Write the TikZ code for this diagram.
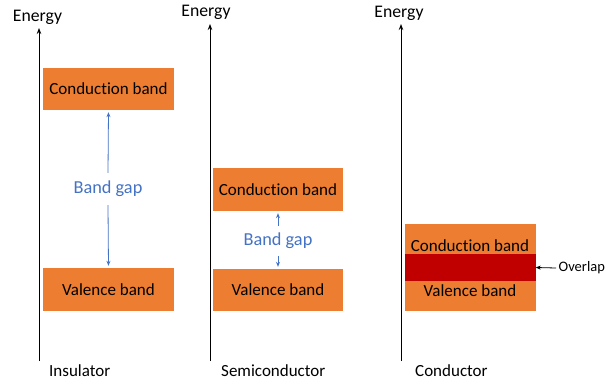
\documentclass[tikz,border=0pt]{standalone}
\usepackage{fontspec}
\setmainfont{Carlito}[Ligatures=NoCommon]
\usetikzlibrary{arrows.meta}
\definecolor{bandorange}{HTML}{ED7D31}
\definecolor{overlapred}{HTML}{C00000}
\definecolor{gapblue}{HTML}{4472C4}
\begin{document}
\begin{tikzpicture}[x=1pt,y=-1pt,
  band/.style={fill=bandorange, draw=none, minimum width=131pt, minimum height=43pt, inner sep=0pt, font=\fontsize{17}{20}\selectfont},
  bandtext/.style={inner sep=0pt, font=\fontsize{17}{20}\selectfont},
  axisline/.style={draw=black, line width=0.9pt, -{Stealth[length=6pt,width=4.5pt]}},
  energy/.style={inner sep=0pt, font=\fontsize{17.7}{21}\selectfont},
  caption/.style={inner sep=0pt, anchor=west, font=\fontsize{17}{20}\selectfont},
  gaptext/.style={inner sep=0pt, text=gapblue, font=\fontsize{18.3}{22}\selectfont},
  gaparrow/.style={draw=gapblue, line width=0.8pt, -{Stealth[length=5pt,width=4pt]}, shorten >=2pt},
  overlaparrow/.style={draw=black, line width=0.8pt, -{Stealth[length=5pt,width=4pt]}}
]
\useasboundingbox (0,0) rectangle (605,380);
% axes
\coordinate (a1b) at (39,361); \coordinate (a1t) at (39,28);
\coordinate (a2b) at (210,361); \coordinate (a2t) at (210,24);
\coordinate (a3b) at (401,361); \coordinate (a3t) at (401,24);
\draw[axisline] (a1b) -- (a1t);
\draw[axisline] (a2b) -- (a2t);
\draw[axisline] (a3b) -- (a3t);
\node[energy] (e1) at (37.5,17) {Energy};
\node[energy] (e2) at (206,12) {Energy};
\node[energy] (e3) at (399,13) {Energy};
\node[caption] (l1) at (49,371) {Insulator};
\node[caption] (l2) at (221,371) {Semiconductor};
\node[caption] (l3) at (415,371) {Conductor};
% insulator
\node[band, minimum height=42pt] (ic) at (108.5,89) {Conduction band};
\node[band] (iv) at (108.5,289.5) {Valence band};
\node[gaptext, minimum height=32pt] (ig) at (108,189) {Band gap};
\draw[gaparrow] (ig.north) -- (ic.south);
\draw[gaparrow] (ig.south) -- (iv.north);
% semiconductor
\node[band, minimum width=130pt] (sc) at (278,189.5) {Conduction band};
\node[band, minimum width=130pt, minimum height=42pt] (sv) at (278,290) {Valence band};
\node[gaptext, minimum height=30pt] (sg) at (278,241) {Band gap};
\draw[gaparrow] (sg.north) -- (sc.south);
\draw[gaparrow] (sg.south) -- (sv.north);
% conductor
\node[band, minimum height=87pt] (cb) at (470,267.5) {};
\node[fill=overlapred, draw=none, minimum width=131pt, minimum height=27pt, inner sep=0pt] (ov) at (470,267.5) {};
\node[bandtext] (ct) at (470,246) {Conduction band};
\node[bandtext] (vt) at (470,291) {Valence band};
\coordinate (ovs) at (556,268);
\draw[overlaparrow] (ovs) -- (ov.east);
\node[inner sep=0pt, anchor=west, font=\fontsize{14.5}{17}\selectfont] (ol) at (558.5,268) {Overlap};
\end{tikzpicture}
\end{document}
